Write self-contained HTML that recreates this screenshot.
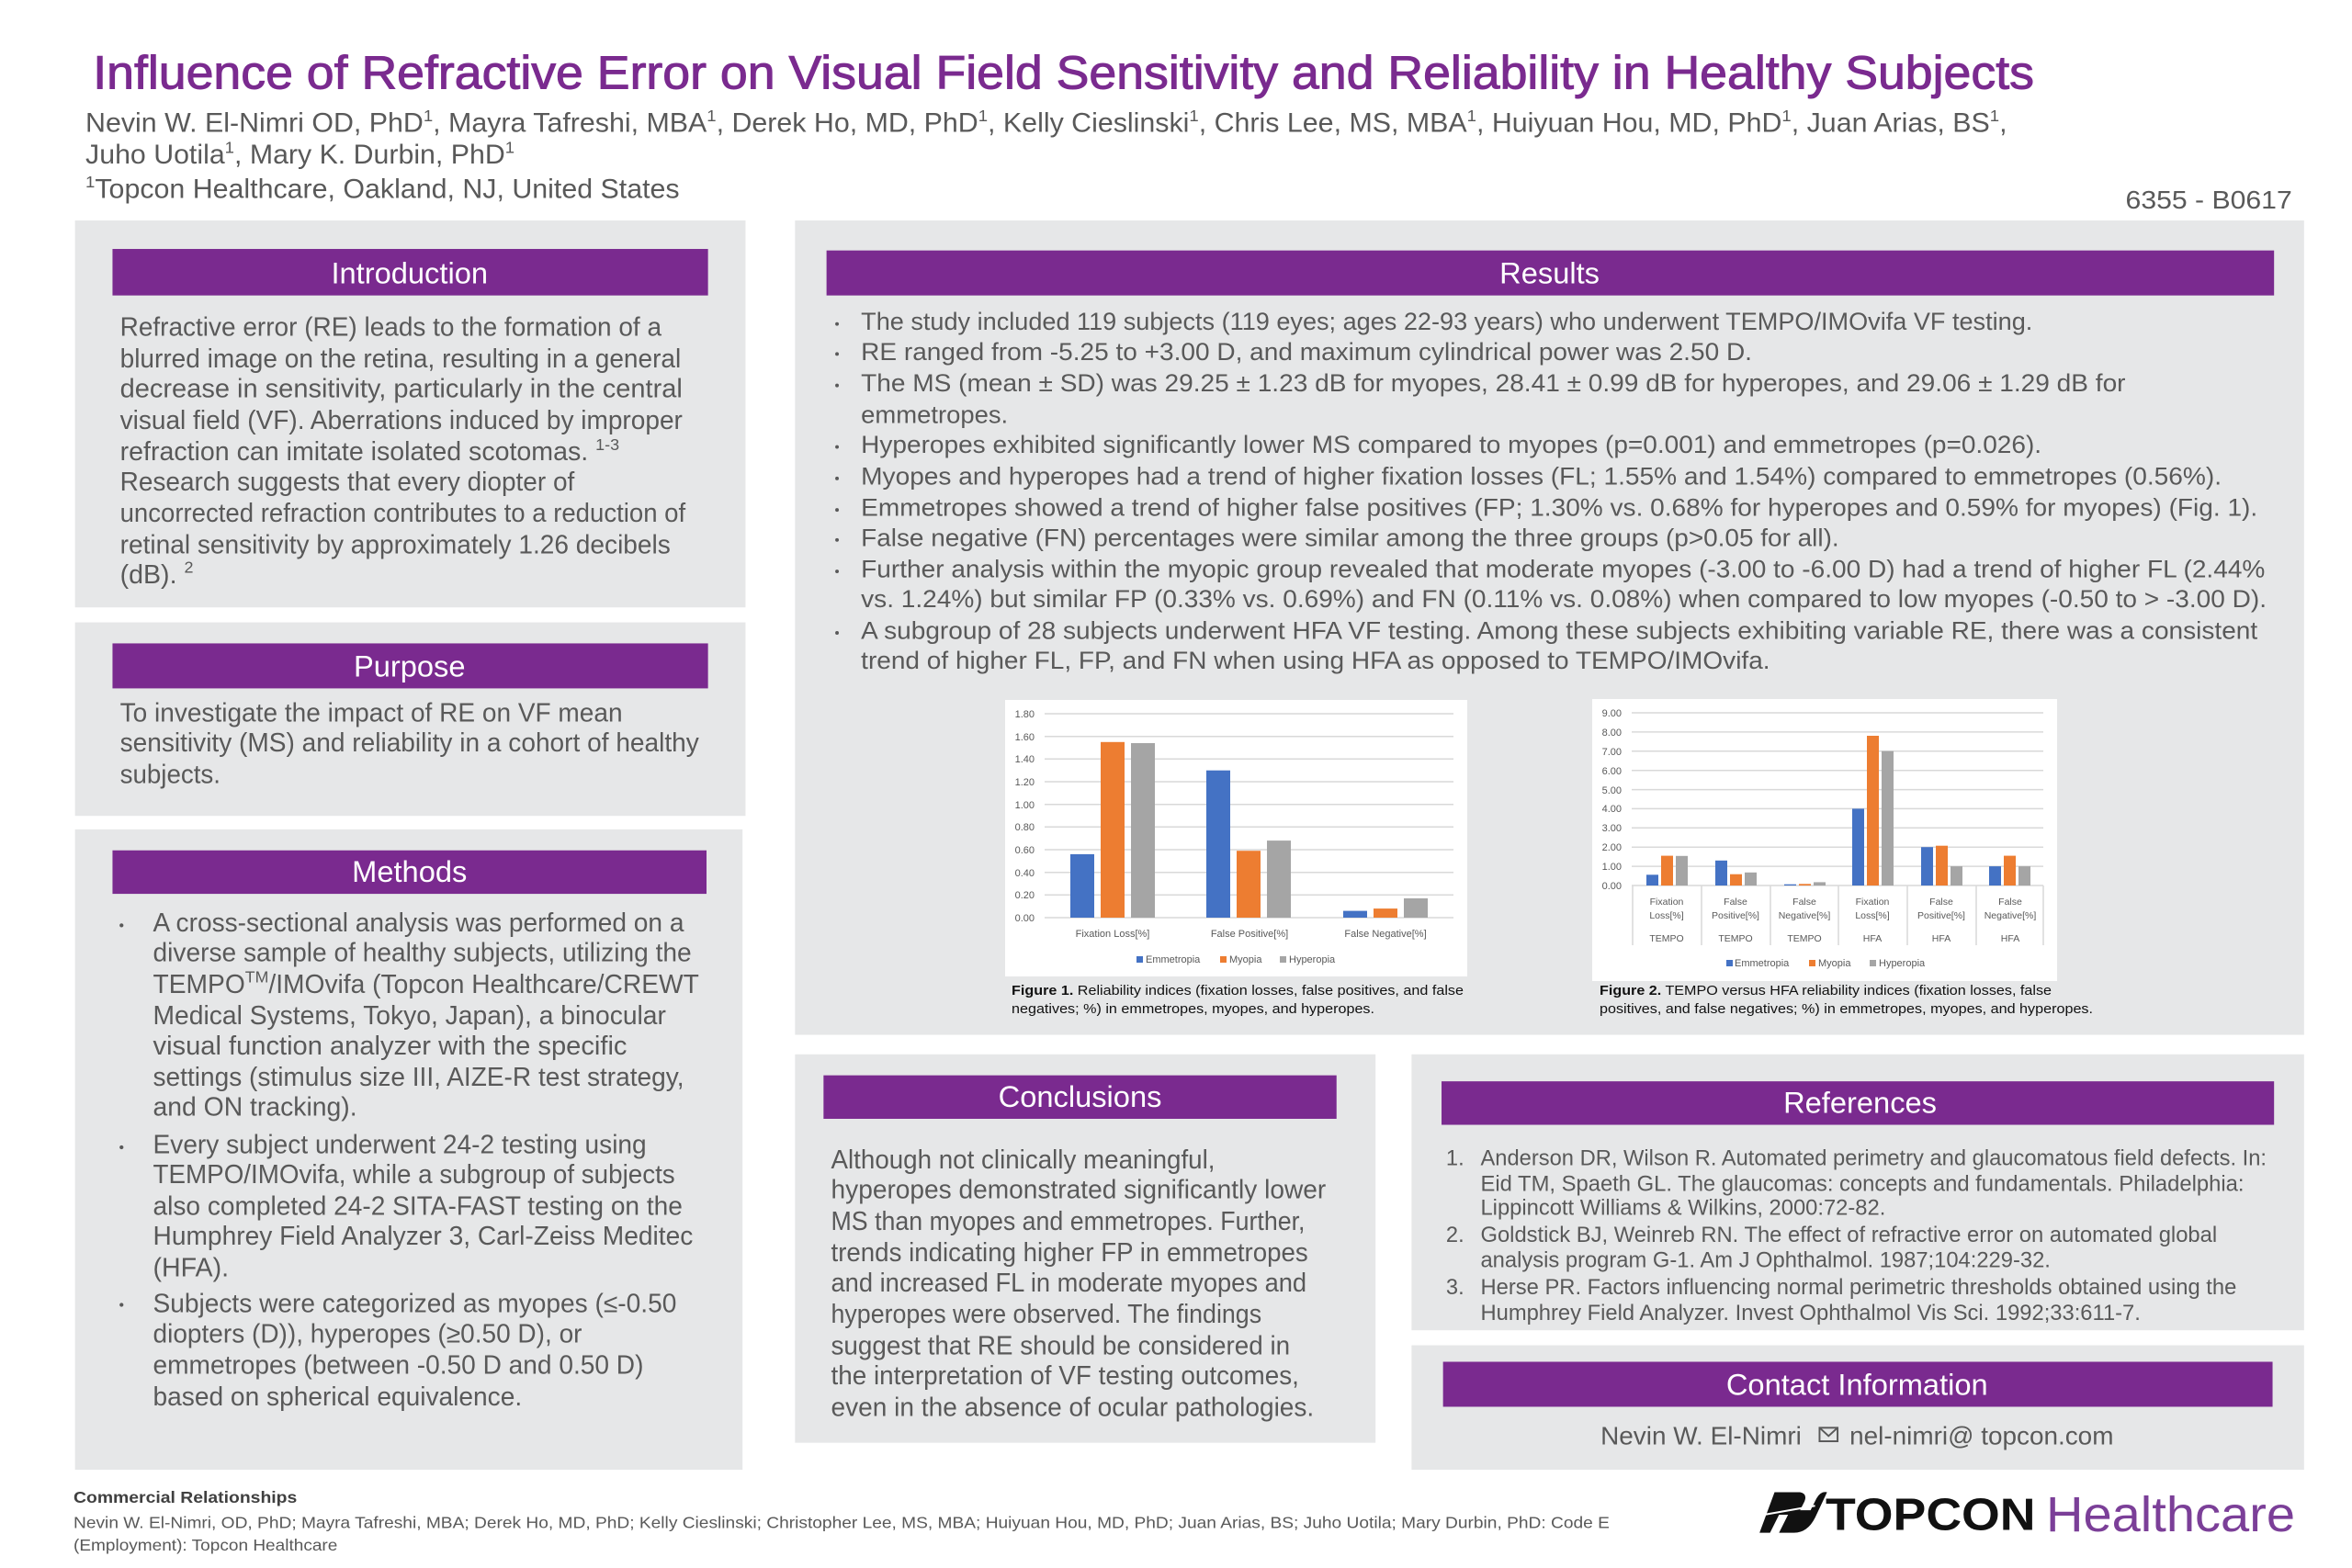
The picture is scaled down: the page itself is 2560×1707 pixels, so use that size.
<!DOCTYPE html>
<html><head><meta charset="utf-8"><style>
html,body{margin:0;padding:0;background:#fff;width:2560px;height:1707px;overflow:hidden}
svg{display:block}
text{font-family:"Liberation Sans",Arial,sans-serif}
</style></head><body>
<svg width="2560" height="1707" viewBox="0 0 2560 1707" xmlns="http://www.w3.org/2000/svg">
<rect width="2560" height="1707" fill="#fff"/>
<g transform="scale(1.6327)">
<!-- header -->
<text x="62" y="59" font-size="31" fill="#7a2a8f" stroke="#7a2a8f" stroke-width="0.6" textLength="1294" lengthAdjust="spacingAndGlyphs">Influence of Refractive Error on Visual Field Sensitivity and Reliability in Healthy Subjects</text>
<g fill="#595959" font-size="18">
<text x="57" y="88" textLength="1281" lengthAdjust="spacingAndGlyphs">Nevin W. El-Nimri OD, PhD<tspan font-size="11" dy="-7">1</tspan><tspan dy="7">, Mayra Tafreshi, MBA</tspan><tspan font-size="11" dy="-7">1</tspan><tspan dy="7">, Derek Ho, MD, PhD</tspan><tspan font-size="11" dy="-7">1</tspan><tspan dy="7">, Kelly Cieslinski</tspan><tspan font-size="11" dy="-7">1</tspan><tspan dy="7">, Chris Lee, MS, MBA</tspan><tspan font-size="11" dy="-7">1</tspan><tspan dy="7">, Huiyuan Hou, MD, PhD</tspan><tspan font-size="11" dy="-7">1</tspan><tspan dy="7">, Juan Arias, BS</tspan><tspan font-size="11" dy="-7">1</tspan><tspan dy="7">,</tspan></text>
<text x="57" y="109" textLength="286" lengthAdjust="spacingAndGlyphs">Juho Uotila<tspan font-size="11" dy="-7">1</tspan><tspan dy="7">, Mary K. Durbin, PhD</tspan><tspan font-size="11" dy="-7">1</tspan></text>
<text x="57" y="132" textLength="396" lengthAdjust="spacingAndGlyphs"><tspan font-size="11" dy="-7">1</tspan><tspan dy="7">Topcon Healthcare, Oakland, NJ, United States</tspan></text>
<text x="1417" y="139" font-size="17" textLength="111" lengthAdjust="spacingAndGlyphs">6355 - B0617</text>
</g>
<!-- panels -->
<g fill="#e6e7e8">
<rect x="50" y="147" width="447" height="258"/>
<rect x="50" y="415" width="447" height="129"/>
<rect x="50" y="553" width="445" height="427"/>
<rect x="530" y="147" width="1006" height="543"/>
<rect x="530" y="703" width="387" height="259"/>
<rect x="941" y="703" width="595" height="184"/>
<rect x="941" y="897" width="595" height="83"/>
</g>
<g fill="#7a2a8f">
<rect x="75" y="166" width="397" height="31"/>
<rect x="75" y="429" width="397" height="30"/>
<rect x="75" y="567" width="396" height="29"/>
<rect x="551" y="167" width="965" height="30"/>
<rect x="549" y="717" width="342" height="29"/>
<rect x="961" y="721" width="555" height="29"/>
<rect x="962" y="908" width="553" height="30"/>
</g>
<g fill="#fff" font-size="20" text-anchor="middle">
<text x="273" y="189">Introduction</text>
<text x="273" y="451">Purpose</text>
<text x="273" y="588">Methods</text>
<text x="1033" y="189">Results</text>
<text x="720" y="738">Conclusions</text>
<text x="1240" y="742">References</text>
<text x="1238" y="930">Contact Information</text>
</g>
<!-- intro -->
<g fill="#595959" font-size="17.5">
<text x="80" y="224" textLength="361" lengthAdjust="spacingAndGlyphs">Refractive error (RE) leads to the formation of a</text>
<text x="80" y="245" textLength="374" lengthAdjust="spacingAndGlyphs">blurred image on the retina, resulting in a general</text>
<text x="80" y="265" textLength="375" lengthAdjust="spacingAndGlyphs">decrease in sensitivity, particularly in the central</text>
<text x="80" y="286" textLength="375" lengthAdjust="spacingAndGlyphs">visual field (VF). Aberrations induced by improper</text>
<text x="80" y="307">refraction can imitate isolated scotomas. <tspan font-size="11" dy="-7">1-3</tspan></text>
<text x="80" y="327" textLength="303" lengthAdjust="spacingAndGlyphs">Research suggests that every diopter of</text>
<text x="80" y="348" textLength="377" lengthAdjust="spacingAndGlyphs">uncorrected refraction contributes to a reduction of</text>
<text x="80" y="369" textLength="367" lengthAdjust="spacingAndGlyphs">retinal sensitivity by approximately 1.26 decibels</text>
<text x="80" y="389">(dB). <tspan font-size="11" dy="-7">2</tspan></text>
<!-- purpose -->
<text x="80" y="481" textLength="335" lengthAdjust="spacingAndGlyphs">To investigate the impact of RE on VF mean</text>
<text x="80" y="501" textLength="386" lengthAdjust="spacingAndGlyphs">sensitivity (MS) and reliability in a cohort of healthy</text>
<text x="80" y="522" textLength="67" lengthAdjust="spacingAndGlyphs">subjects.</text>
<!-- methods -->
<text x="102" y="621" textLength="354" lengthAdjust="spacingAndGlyphs">A cross-sectional analysis was performed on a</text>
<text x="102" y="641" textLength="359" lengthAdjust="spacingAndGlyphs">diverse sample of healthy subjects, utilizing the</text>
<text x="102" y="662" textLength="364" lengthAdjust="spacingAndGlyphs">TEMPO<tspan font-size="11" dy="-7">TM</tspan><tspan dy="7">/IMOvifa (Topcon Healthcare/CREWT</tspan></text>
<text x="102" y="683" textLength="342" lengthAdjust="spacingAndGlyphs">Medical Systems, Tokyo, Japan), a binocular</text>
<text x="102" y="703" textLength="316" lengthAdjust="spacingAndGlyphs">visual function analyzer with the specific</text>
<text x="102" y="724" textLength="354" lengthAdjust="spacingAndGlyphs">settings (stimulus size III, AIZE-R test strategy,</text>
<text x="102" y="744" textLength="136" lengthAdjust="spacingAndGlyphs">and ON tracking).</text>
<text x="102" y="769" textLength="329" lengthAdjust="spacingAndGlyphs">Every subject underwent 24-2 testing using</text>
<text x="102" y="789" textLength="348" lengthAdjust="spacingAndGlyphs">TEMPO/IMOvifa, while a subgroup of subjects</text>
<text x="102" y="810" textLength="353" lengthAdjust="spacingAndGlyphs">also completed 24-2 SITA-FAST testing on the</text>
<text x="102" y="830" textLength="360" lengthAdjust="spacingAndGlyphs">Humphrey Field Analyzer 3, Carl-Zeiss Meditec</text>
<text x="102" y="851">(HFA).</text>
<text x="102" y="875" textLength="349" lengthAdjust="spacingAndGlyphs">Subjects were categorized as myopes (≤-0.50</text>
<text x="102" y="895" textLength="286" lengthAdjust="spacingAndGlyphs">diopters (D)), hyperopes (≥0.50 D), or</text>
<text x="102" y="916" textLength="327" lengthAdjust="spacingAndGlyphs">emmetropes (between -0.50 D and 0.50 D)</text>
<text x="102" y="937" textLength="246" lengthAdjust="spacingAndGlyphs">based on spherical equivalence.</text>
<circle cx="81" cy="617" r="1.3"/><circle cx="81" cy="765" r="1.3"/><circle cx="81" cy="870" r="1.3"/>
<!-- conclusions -->
<text x="554" y="779" textLength="256" lengthAdjust="spacingAndGlyphs">Although not clinically meaningful,</text>
<text x="554" y="799" textLength="330" lengthAdjust="spacingAndGlyphs">hyperopes demonstrated significantly lower</text>
<text x="554" y="820" textLength="316" lengthAdjust="spacingAndGlyphs">MS than myopes and emmetropes. Further,</text>
<text x="554" y="841" textLength="318" lengthAdjust="spacingAndGlyphs">trends indicating higher FP in emmetropes</text>
<text x="554" y="861" textLength="317" lengthAdjust="spacingAndGlyphs">and increased FL in moderate myopes and</text>
<text x="554" y="882" textLength="287" lengthAdjust="spacingAndGlyphs">hyperopes were observed. The findings</text>
<text x="554" y="903" textLength="306" lengthAdjust="spacingAndGlyphs">suggest that RE should be considered in</text>
<text x="554" y="923" textLength="312" lengthAdjust="spacingAndGlyphs">the interpretation of VF testing outcomes,</text>
<text x="554" y="944" textLength="322" lengthAdjust="spacingAndGlyphs">even in the absence of ocular pathologies.</text>
</g>
<!-- results -->
<g fill="#595959" font-size="16.5">
<text x="574" y="220" textLength="781" lengthAdjust="spacingAndGlyphs">The study included 119 subjects (119 eyes; ages 22-93 years) who underwent TEMPO/IMOvifa VF testing.</text>
<text x="574" y="240" textLength="594" lengthAdjust="spacingAndGlyphs">RE ranged from -5.25 to +3.00 D, and maximum cylindrical power was 2.50 D.</text>
<text x="574" y="261" textLength="843" lengthAdjust="spacingAndGlyphs">The MS (mean ± SD) was 29.25 ± 1.23 dB for myopes, 28.41 ± 0.99 dB for hyperopes, and 29.06 ± 1.29 dB for</text>
<text x="574" y="282" textLength="98" lengthAdjust="spacingAndGlyphs">emmetropes.</text>
<text x="574" y="302" textLength="787" lengthAdjust="spacingAndGlyphs">Hyperopes exhibited significantly lower MS compared to myopes (p=0.001) and emmetropes (p=0.026).</text>
<text x="574" y="323" textLength="907" lengthAdjust="spacingAndGlyphs">Myopes and hyperopes had a trend of higher fixation losses (FL; 1.55% and 1.54%) compared to emmetropes (0.56%).</text>
<text x="574" y="344" textLength="931" lengthAdjust="spacingAndGlyphs">Emmetropes showed a trend of higher false positives (FP; 1.30% vs. 0.68% for hyperopes and 0.59% for myopes) (Fig. 1).</text>
<text x="574" y="364" textLength="652" lengthAdjust="spacingAndGlyphs">False negative (FN) percentages were similar among the three groups (p&gt;0.05 for all).</text>
<text x="574" y="385" textLength="936" lengthAdjust="spacingAndGlyphs">Further analysis within the myopic group revealed that moderate myopes (-3.00 to -6.00 D) had a trend of higher FL (2.44%</text>
<text x="574" y="405" textLength="937" lengthAdjust="spacingAndGlyphs">vs. 1.24%) but similar FP (0.33% vs. 0.69%) and FN (0.11% vs. 0.08%) when compared to low myopes (-0.50 to &gt; -3.00 D).</text>
<text x="574" y="426" textLength="931" lengthAdjust="spacingAndGlyphs">A subgroup of 28 subjects underwent HFA VF testing. Among these subjects exhibiting variable RE, there was a consistent</text>
<text x="574" y="446" textLength="606" lengthAdjust="spacingAndGlyphs">trend of higher FL, FP, and FN when using HFA as opposed to TEMPO/IMOvifa.</text>
<circle cx="558" cy="216" r="1.2"/><circle cx="558" cy="236" r="1.2"/><circle cx="558" cy="257" r="1.2"/>
<circle cx="558" cy="298" r="1.2"/><circle cx="558" cy="319" r="1.2"/><circle cx="558" cy="340" r="1.2"/>
<circle cx="558" cy="360" r="1.2"/><circle cx="558" cy="381" r="1.2"/><circle cx="558" cy="422" r="1.2"/>
</g>
<!-- references -->
<g fill="#595959" font-size="14.5">
<text x="964" y="777">1.</text><text x="964" y="828">2.</text><text x="964" y="863">3.</text>
<text x="987" y="777" textLength="524" lengthAdjust="spacingAndGlyphs">Anderson DR, Wilson R. Automated perimetry and glaucomatous field defects. In:</text>
<text x="987" y="794" textLength="509" lengthAdjust="spacingAndGlyphs">Eid TM, Spaeth GL. The glaucomas: concepts and fundamentals. Philadelphia:</text>
<text x="987" y="810" textLength="270" lengthAdjust="spacingAndGlyphs">Lippincott Williams &amp; Wilkins, 2000:72-82.</text>
<text x="987" y="828" textLength="491" lengthAdjust="spacingAndGlyphs">Goldstick BJ, Weinreb RN. The effect of refractive error on automated global</text>
<text x="987" y="845" textLength="380" lengthAdjust="spacingAndGlyphs">analysis program G-1. Am J Ophthalmol. 1987;104:229-32.</text>
<text x="987" y="863" textLength="504" lengthAdjust="spacingAndGlyphs">Herse PR. Factors influencing normal perimetric thresholds obtained using the</text>
<text x="987" y="880" textLength="440" lengthAdjust="spacingAndGlyphs">Humphrey Field Analyzer. Invest Ophthalmol Vis Sci. 1992;33:611-7.</text>
</g>
<!-- contact -->
<g fill="#595959" font-size="17">
<text x="1067" y="963" textLength="134" lengthAdjust="spacingAndGlyphs">Nevin W. El-Nimri</text>
<rect x="1213" y="952" width="12" height="9" fill="none" stroke="#595959" stroke-width="1.2"/>
<path d="M1213 952 L1219 957.5 L1225 952" fill="none" stroke="#595959" stroke-width="1.2"/>
<text x="1233" y="963" textLength="176" lengthAdjust="spacingAndGlyphs">nel-nimri@ topcon.com</text>
</g>
<!-- footer -->
<g fill="#595959" font-size="11">
<text x="49" y="1002" font-weight="bold" fill="#404040" textLength="149" lengthAdjust="spacingAndGlyphs">Commercial Relationships</text>
<text x="49" y="1019" textLength="1024" lengthAdjust="spacingAndGlyphs">Nevin W. El-Nimri, OD, PhD; Mayra Tafreshi, MBA; Derek Ho, MD, PhD; Kelly Cieslinski; Christopher Lee, MS, MBA; Huiyuan Hou, MD, PhD; Juan Arias, BS; Juho Uotila; Mary Durbin, PhD: Code E</text>
<text x="49" y="1034" textLength="176" lengthAdjust="spacingAndGlyphs">(Employment): Topcon Healthcare</text>
</g>
<!-- logo -->
<g>
<path d="M1183 995 L1200 995 Q1205 996 1203 1001 L1200 1007 L1207 1007 L1211 999 Q1214 994 1218 995 L1210 1012 Q1205 1022 1196 1022 L1186 1022 L1192 1010 L1186 1010 L1180 1022 L1173 1022 Z" fill="#111"/>
<path d="M1176 1010 L1210 1004" stroke="#fff" stroke-width="1.2"/>
<text x="1217" y="1020" font-size="30" font-weight="bold" fill="#111" textLength="140" lengthAdjust="spacingAndGlyphs">TOPCON</text>
<text x="1364" y="1021" font-size="33" fill="#7b3f98" textLength="166" lengthAdjust="spacingAndGlyphs">Healthcare</text>
</g>
</g>

<!-- Figure 1 (original coords) -->
<g>
<rect x="1094" y="762" width="503" height="301" fill="#fff"/>
<g stroke="#d9d9d9" stroke-width="1.5">
<line x1="1137" x2="1582" y1="999" y2="999"/><line x1="1137" x2="1582" y1="974.3" y2="974.3"/>
<line x1="1137" x2="1582" y1="949.7" y2="949.7"/><line x1="1137" x2="1582" y1="925" y2="925"/>
<line x1="1137" x2="1582" y1="900.3" y2="900.3"/><line x1="1137" x2="1582" y1="875.7" y2="875.7"/>
<line x1="1137" x2="1582" y1="851" y2="851"/><line x1="1137" x2="1582" y1="826.3" y2="826.3"/>
<line x1="1137" x2="1582" y1="801.7" y2="801.7"/><line x1="1137" x2="1582" y1="777" y2="777"/>
</g>
<g fill="#595959" font-size="11" text-anchor="end">
<text x="1126" y="1003">0.00</text><text x="1126" y="978">0.20</text><text x="1126" y="954">0.40</text>
<text x="1126" y="929">0.60</text><text x="1126" y="904">0.80</text><text x="1126" y="880">1.00</text>
<text x="1126" y="855">1.20</text><text x="1126" y="830">1.40</text><text x="1126" y="806">1.60</text>
<text x="1126" y="781">1.80</text>
</g>
<g>
<rect x="1165" y="929.9" width="26" height="69.1" fill="#4472c4"/>
<rect x="1198" y="807.8" width="26" height="191.2" fill="#ed7d31"/>
<rect x="1231" y="809" width="26" height="190" fill="#a5a5a5"/>
<rect x="1313" y="838.7" width="26" height="160.3" fill="#4472c4"/>
<rect x="1346" y="926.2" width="26" height="72.8" fill="#ed7d31"/>
<rect x="1379" y="915.1" width="26" height="83.9" fill="#a5a5a5"/>
<rect x="1462" y="991.6" width="26" height="7.4" fill="#4472c4"/>
<rect x="1495" y="989.1" width="26" height="9.9" fill="#ed7d31"/>
<rect x="1528" y="978" width="26" height="21" fill="#a5a5a5"/>
</g>
<g fill="#595959" font-size="11" text-anchor="middle">
<text x="1211" y="1020">Fixation Loss[%]</text><text x="1360" y="1020">False Positive[%]</text><text x="1508" y="1020">False Negative[%]</text>
</g>
<g font-size="11" fill="#595959">
<rect x="1237" y="1041" width="7" height="7" fill="#4472c4"/><text x="1247" y="1048">Emmetropia</text>
<rect x="1328" y="1041" width="7" height="7" fill="#ed7d31"/><text x="1338" y="1048">Myopia</text>
<rect x="1393" y="1041" width="7" height="7" fill="#a5a5a5"/><text x="1403" y="1048">Hyperopia</text>
</g>
<g font-size="14.5" fill="#111">
<text x="1101" y="1083" textLength="492" lengthAdjust="spacingAndGlyphs"><tspan font-weight="bold">Figure 1.</tspan> Reliability indices (fixation losses, false positives, and false</text>
<text x="1101" y="1103" textLength="395" lengthAdjust="spacingAndGlyphs">negatives; %) in emmetropes, myopes, and hyperopes.</text>
</g>
</g>

<!-- Figure 2 -->
<g>
<rect x="1733" y="761" width="506" height="307" fill="#fff"/>
<g stroke="#d9d9d9" stroke-width="1.5">
<line x1="1776" x2="2224" y1="964" y2="964"/><line x1="1776" x2="2224" y1="943.1" y2="943.1"/>
<line x1="1776" x2="2224" y1="922.2" y2="922.2"/><line x1="1776" x2="2224" y1="901.3" y2="901.3"/>
<line x1="1776" x2="2224" y1="880.4" y2="880.4"/><line x1="1776" x2="2224" y1="859.6" y2="859.6"/>
<line x1="1776" x2="2224" y1="838.7" y2="838.7"/><line x1="1776" x2="2224" y1="817.8" y2="817.8"/>
<line x1="1776" x2="2224" y1="796.9" y2="796.9"/><line x1="1776" x2="2224" y1="776" y2="776"/>
<line x1="1777" x2="1777" y1="964" y2="1029"/><line x1="1852" x2="1852" y1="964" y2="1029"/>
<line x1="1927" x2="1927" y1="964" y2="1029"/><line x1="2001" x2="2001" y1="964" y2="1029"/>
<line x1="2076" x2="2076" y1="964" y2="1029"/><line x1="2151" x2="2151" y1="964" y2="1029"/>
<line x1="2224" x2="2224" y1="964" y2="1029"/>
</g>
<g fill="#595959" font-size="11" text-anchor="end">
<text x="1765" y="968">0.00</text><text x="1765" y="947">1.00</text><text x="1765" y="926">2.00</text>
<text x="1765" y="905">3.00</text><text x="1765" y="884">4.00</text><text x="1765" y="864">5.00</text>
<text x="1765" y="843">6.00</text><text x="1765" y="822">7.00</text><text x="1765" y="801">8.00</text>
<text x="1765" y="780">9.00</text>
</g>
<g>
<rect x="1792" y="952.3" width="13" height="11.7" fill="#4472c4"/>
<rect x="1808" y="931.6" width="13" height="32.4" fill="#ed7d31"/>
<rect x="1824" y="931.8" width="13" height="32.2" fill="#a5a5a5"/>
<rect x="1867" y="936.8" width="13" height="27.2" fill="#4472c4"/>
<rect x="1883" y="951.7" width="13" height="12.3" fill="#ed7d31"/>
<rect x="1899" y="949.8" width="13" height="14.2" fill="#a5a5a5"/>
<rect x="1942" y="962.7" width="13" height="1.3" fill="#4472c4"/>
<rect x="1958" y="962.3" width="13" height="1.7" fill="#ed7d31"/>
<rect x="1974" y="960.4" width="13" height="3.6" fill="#a5a5a5"/>
<rect x="2016" y="880.4" width="13" height="83.6" fill="#4472c4"/>
<rect x="2032" y="801" width="13" height="163" fill="#ed7d31"/>
<rect x="2048" y="817.7" width="13" height="146.3" fill="#a5a5a5"/>
<rect x="2091" y="922.2" width="13" height="41.8" fill="#4472c4"/>
<rect x="2107" y="920.7" width="13" height="43.3" fill="#ed7d31"/>
<rect x="2123" y="943.1" width="13" height="20.9" fill="#a5a5a5"/>
<rect x="2165" y="943.1" width="13" height="20.9" fill="#4472c4"/>
<rect x="2181" y="931.6" width="13" height="32.4" fill="#ed7d31"/>
<rect x="2197" y="943.1" width="13" height="20.9" fill="#a5a5a5"/>
</g>
<g fill="#595959" font-size="10.5" text-anchor="middle">
<text x="1814" y="985">Fixation</text><text x="1814" y="1000">Loss[%]</text><text x="1814" y="1025">TEMPO</text>
<text x="1889" y="985">False</text><text x="1889" y="1000">Positive[%]</text><text x="1889" y="1025">TEMPO</text>
<text x="1964" y="985">False</text><text x="1964" y="1000">Negative[%]</text><text x="1964" y="1025">TEMPO</text>
<text x="2038" y="985">Fixation</text><text x="2038" y="1000">Loss[%]</text><text x="2038" y="1025">HFA</text>
<text x="2113" y="985">False</text><text x="2113" y="1000">Positive[%]</text><text x="2113" y="1025">HFA</text>
<text x="2188" y="985">False</text><text x="2188" y="1000">Negative[%]</text><text x="2188" y="1025">HFA</text>
</g>
<g font-size="11" fill="#595959">
<rect x="1879" y="1045" width="7" height="7" fill="#4472c4"/><text x="1888" y="1052">Emmetropia</text>
<rect x="1969" y="1045" width="7" height="7" fill="#ed7d31"/><text x="1979" y="1052">Myopia</text>
<rect x="2035" y="1045" width="7" height="7" fill="#a5a5a5"/><text x="2045" y="1052">Hyperopia</text>
</g>
<g font-size="14.5" fill="#111">
<text x="1741" y="1083" textLength="492" lengthAdjust="spacingAndGlyphs"><tspan font-weight="bold">Figure 2.</tspan> TEMPO versus HFA reliability indices (fixation losses, false</text>
<text x="1741" y="1103" textLength="537" lengthAdjust="spacingAndGlyphs">positives, and false negatives; %) in emmetropes, myopes, and hyperopes.</text>
</g>
</g>
</svg>
</body></html>
